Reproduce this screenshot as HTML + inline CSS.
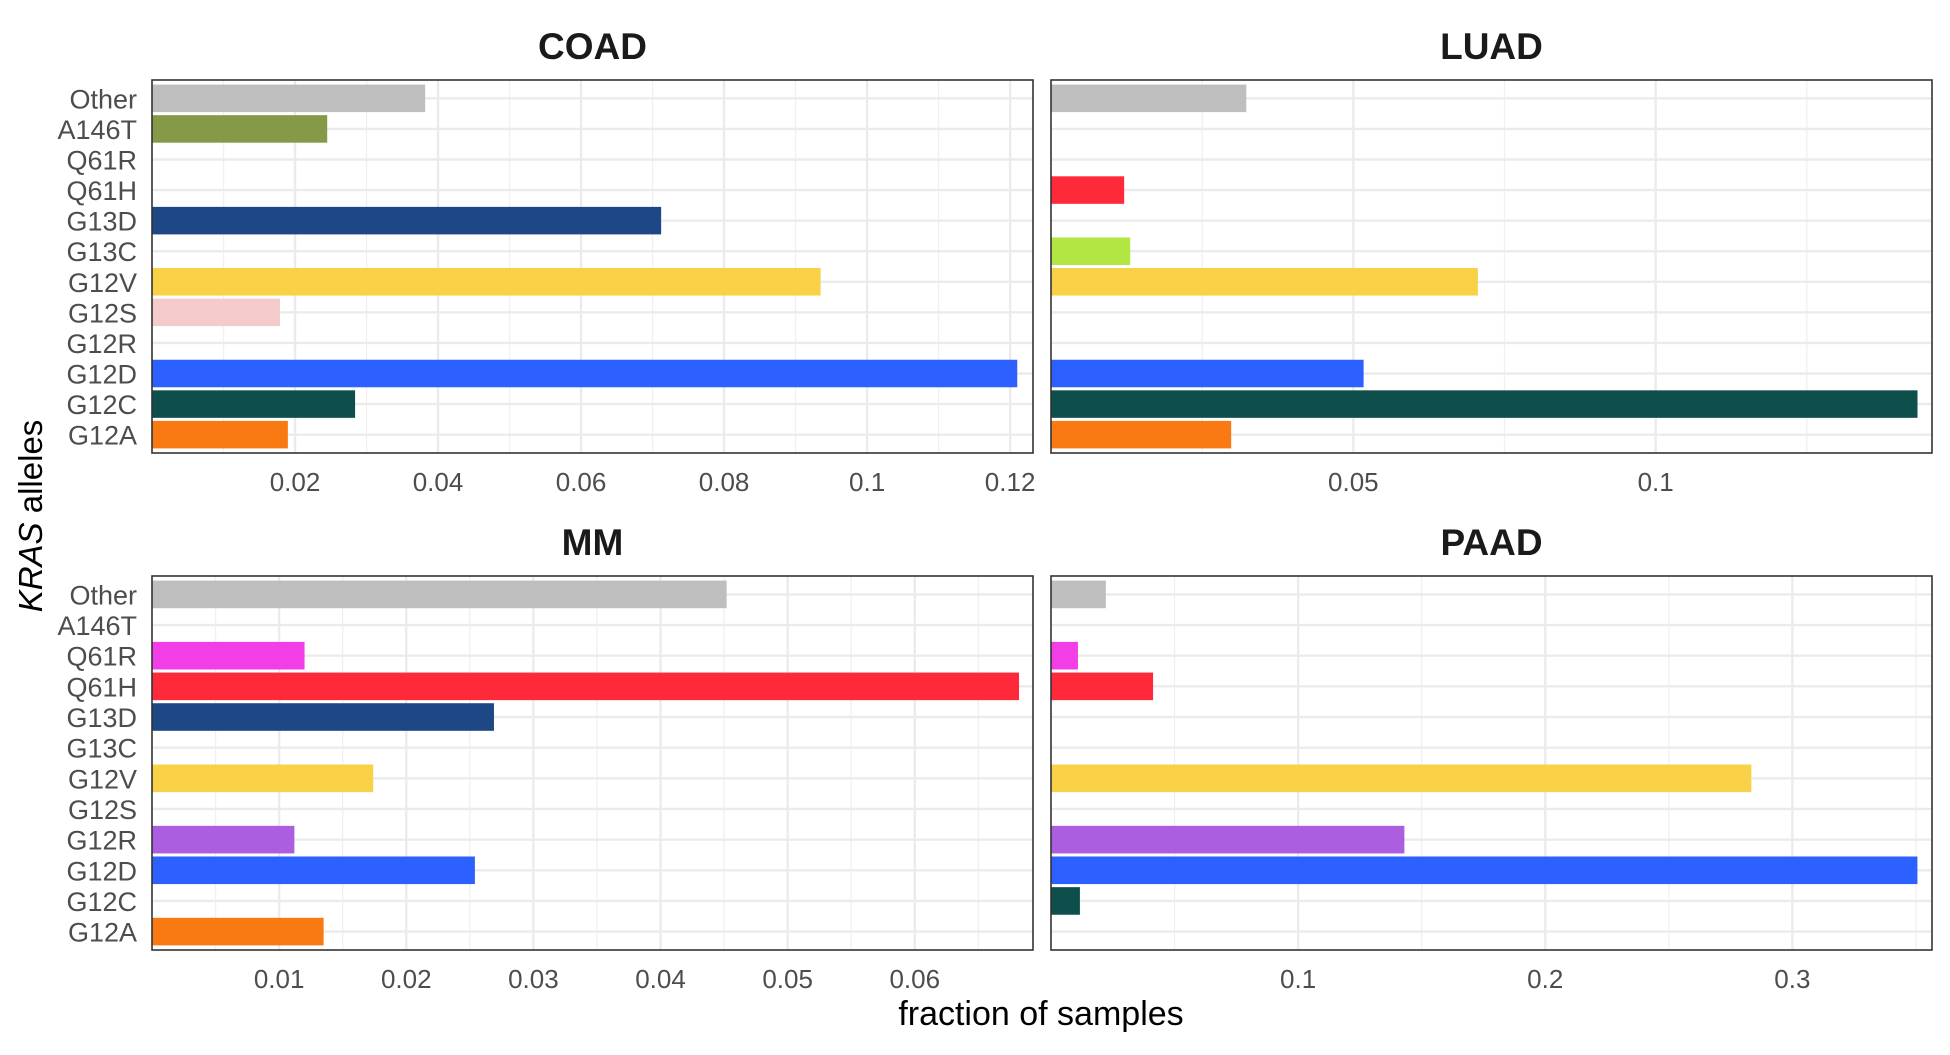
<!DOCTYPE html>
<html><head><meta charset="utf-8"><style>
body{margin:0;background:#fff;}
svg text{font-family:"Liberation Sans",sans-serif;}
</style></head><body>
<svg id="chart" width="1950" height="1050" xmlns="http://www.w3.org/2000/svg"></svg>
<script>
const categories = ["G12A","G12C","G12D","G12R","G12S","G12V","G13C","G13D","Q61H","Q61R","A146T","Other"];
const colors = {"Other":"#bebebe","A146T":"#859947","Q61R":"#f33de6","Q61H":"#fe2a3a","G13D":"#1d4785","G13C":"#b1e643","G12V":"#f8d147","G12S":"#f4cbcb","G12R":"#ac5ee0","G12D":"#2c61ff","G12C":"#0e4f4c","G12A":"#f97a12"};
const coadValues = [0.019,0.0284,0.121,0,0.0179,0.0935,0,0.0712,0,0,0.0245,0.0382];
const luadValues = [0.0298,0.1433,0.0517,0,0,0.0706,0.0131,0,0.0121,0,0,0.0323];
const mmValues = [0.0135,0,0.0254,0.0112,0,0.0174,0,0.0269,0.0682,0.0120,0,0.0452];
const paadValues = [0,0.0117,0.3506,0.143,0,0.2834,0,0,0.0413,0.0109,0,0.0222];
const coadTicks = [0.02,0.04,0.06,0.08,0.1,0.12];
const luadTicks = [0.05,0.1];
const mmTicks = [0.01,0.02,0.03,0.04,0.05,0.06];
const paadTicks = [0.1,0.2,0.3];
const coadMax = 0.1232, luadMax = 0.1457, mmMax = 0.0693, paadMax = 0.3565;

const NS="http://www.w3.org/2000/svg";
const svg=document.getElementById('chart');
function mk(tag,attrs,parent){const e=document.createElementNS(NS,tag);for(const k in attrs)e.setAttribute(k,attrs[k]);(parent||svg).appendChild(e);return e;}

function panel(name,title,values,ticks,max,x0,x1,y0,y1,showY){
  const g=mk('g',{});
  
  
  const xs=v=>x0+(v/max)*(x1-x0);
  const n=categories.length;
  const step=(y1-y0)/(n-1+1.2);
  const ys=i=>y1-step*(0.6+i);
  const tstep=ticks.length>1?ticks[1]-ticks[0]:ticks[0];
  for(let m=tstep/2;m<max;m+=tstep){
    mk('line',{x1:xs(m),x2:xs(m),y1:y0,y2:y1,stroke:'#f0f0f0','stroke-width':1.3},g);
  }
  ticks.forEach(t=>{
    const l=mk('line',{x1:xs(t),x2:xs(t),y1:y0,y2:y1,stroke:'#ebebeb','stroke-width':2.4},g);
    
    
  });
  categories.forEach((c,i)=>{
    mk('line',{x1:x0,x2:x1,y1:ys(i),y2:ys(i),stroke:'#ebebeb','stroke-width':2.4},g);
  });
  const bh=step*0.9;
  values.forEach((v,i)=>{
    if(v<=0)return;
    const r=mk('rect',{x:x0,y:ys(i)-bh/2,width:xs(v)-x0,height:bh,fill:colors[categories[i]]},g);
    
    
  });
  const b=mk('rect',{x:x0,y:y0,width:x1-x0,height:y1-y0,fill:'none',stroke:'#333','stroke-width':1.6},g);
  
  
  ticks.forEach(t=>{
    const tx=mk('text',{x:xs(t),y:y1+38,'text-anchor':'middle','font-size':26,fill:'#4d4d4d'},g);
    tx.textContent=String(t);
    
    
  });
  if(showY){
    categories.forEach((c,i)=>{
      const tx=mk('text',{x:x0-15,y:ys(i)+10,'text-anchor':'end','font-size':27,fill:'#4d4d4d'},g);
      tx.textContent=c;
      
      
    });
  }
  const tt=mk('text',{x:(x0+x1)/2,y:y0-21,'text-anchor':'middle','font-size':37,'font-weight':'bold',fill:'#1a1a1a'},g);
  tt.textContent=title;
  
  
}
panel('coad','COAD',coadValues,coadTicks,coadMax,152,1033,80,453,true);
panel('luad','LUAD',luadValues,luadTicks,luadMax,1051,1932,80,453,false);
panel('mm','MM',mmValues,mmTicks,mmMax,152,1033,576,950,true);
panel('paad','PAAD',paadValues,paadTicks,paadMax,1051,1932,576,950,false);

const xt=mk('text',{x:1041,y:1025,'text-anchor':'middle','font-size':34,fill:'#000'});
xt.textContent='fraction of samples';


const yt=mk('text',{x:0,y:0,'text-anchor':'middle','font-size':33,fill:'#000',transform:'translate(42,516) rotate(-90)'});


const it=mk('tspan',{'font-style':'italic'},yt);it.textContent='KRAS';
const rt=mk('tspan',{},yt);rt.textContent=' alleles';
</script>
</body></html>
